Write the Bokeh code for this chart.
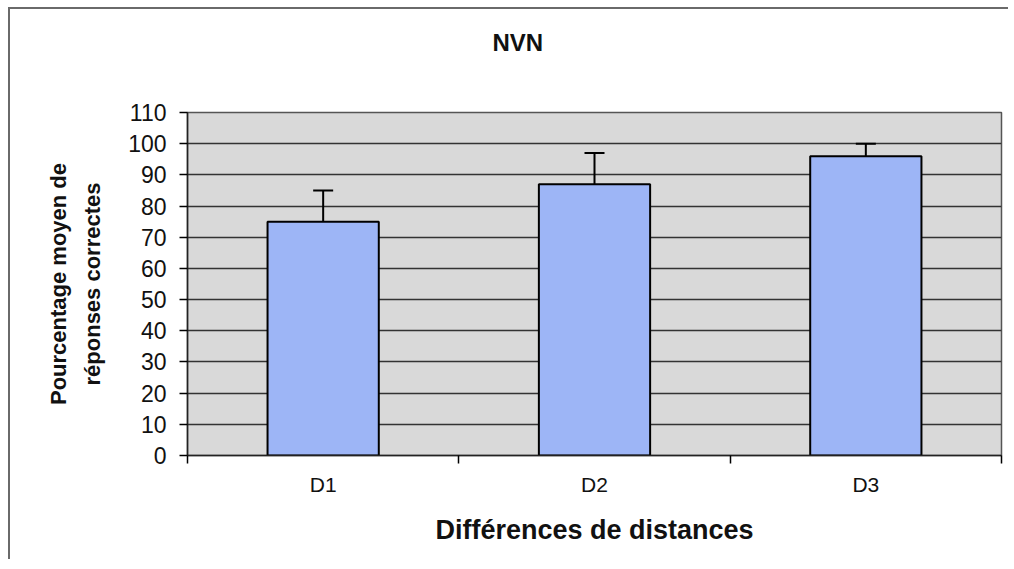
from bokeh.plotting import figure
from bokeh.models import ColumnDataSource, FixedTicker, Whisker, TeeHead, Range1d, Title
from bokeh.embed import file_html
from bokeh.resources import INLINE

chart_title = "NVN"
categories = ["D1", "D2", "D3"]
means = [75, 87, 96]
errors = [10, 10, 4]
y_ticks = [0, 10, 20, 30, 40, 50, 60, 70, 80, 90, 100, 110]

xs = [i + 0.5 for i in range(len(categories))]
src = ColumnDataSource(dict(
    x=xs, top=means,
    upper=[m + e for m, e in zip(means, errors)],
))

p = figure(width=1000, height=552, output_backend="svg", toolbar_location=None,
           x_range=Range1d(0, len(categories)), y_range=Range1d(0, 110),
           title=chart_title,
           min_border_left=177, min_border_right=9,
           min_border_top=103, min_border_bottom=106)
p.styles = {"border-top": "2px solid #6a6a6a", "border-left": "2px solid #6a6a6a",
            "margin-left": "8px", "margin-top": "7px"}

FONT = "Liberation Sans"
p.border_fill_color = "white"
p.background_fill_color = "#D9D9D9"
p.outline_line_color = "#555555"
p.outline_line_width = 1.5

p.title.text_font = FONT
p.title.text_font_size = "24px"
p.title.text_font_style = "bold"
p.title.text_color = "#111111"
p.title.align = "left"
p.title.offset = 305
p.title.standoff = 0
p.title.vertical_align = "bottom"

# empty spacer between the title and the plot area
p.add_layout(Title(text=" ", text_font_size="10px", standoff=44), "above")

p.vbar(x="x", top="top", width=0.41, source=src, fill_color="#9DB5F6",
       line_color="black", line_width=2)

w = Whisker(base="x", lower="top", upper="upper", source=src,
            line_color="black", line_width=2,
            upper_head=TeeHead(size=20, line_width=2, line_color="black"),
            lower_head=None)
p.add_layout(w)

# y axis
p.yaxis.ticker = FixedTicker(ticks=y_ticks)
p.yaxis.minor_tick_line_color = None
p.yaxis.major_tick_in = 0
p.yaxis.major_tick_out = 8
p.yaxis.major_tick_line_width = 1.5
p.yaxis.axis_line_width = 1.5
p.yaxis.axis_line_color = "#222222"
p.yaxis.major_label_text_font = FONT
p.yaxis.major_label_text_font_size = "23px"
p.yaxis.major_label_text_color = "#111111"
p.yaxis.major_label_standoff = 13
p.yaxis.axis_label = "Pourcentage moyen de\nréponses correctes"
p.yaxis.axis_label_text_font = FONT
p.yaxis.axis_label_text_font_size = "22px"
p.yaxis.axis_label_text_font_style = "bold"
p.yaxis.axis_label_text_color = "#111111"
p.yaxis.axis_label_text_line_height = 1.35
p.yaxis.axis_label_standoff = 20

# x axis
p.xaxis.ticker = FixedTicker(ticks=xs, minor_ticks=list(range(len(categories) + 1)))
p.xaxis.major_label_overrides = {x: c for x, c in zip(xs, categories)}
p.xaxis.major_tick_line_color = None
p.xaxis.minor_tick_in = 0
p.xaxis.minor_tick_out = 8
p.xaxis.minor_tick_line_width = 1.5
p.xaxis.axis_line_width = 1.5
p.xaxis.axis_line_color = "#222222"
p.xaxis.major_label_text_font = FONT
p.xaxis.major_label_text_font_size = "21px"
p.xaxis.major_label_text_color = "#111111"
p.xaxis.major_label_standoff = 9
p.xaxis.axis_label = "Différences de distances"
p.xaxis.axis_label_text_font = FONT
p.xaxis.axis_label_text_font_size = "27px"
p.xaxis.axis_label_text_font_style = "bold"
p.xaxis.axis_label_text_color = "#111111"
p.xaxis.axis_label_standoff = 16

p.xgrid.grid_line_color = None
p.ygrid.ticker = FixedTicker(ticks=y_ticks)
p.ygrid.grid_line_color = "#333333"
p.ygrid.grid_line_width = 1.5

open("out.html", "w").write(file_html(p, INLINE))
